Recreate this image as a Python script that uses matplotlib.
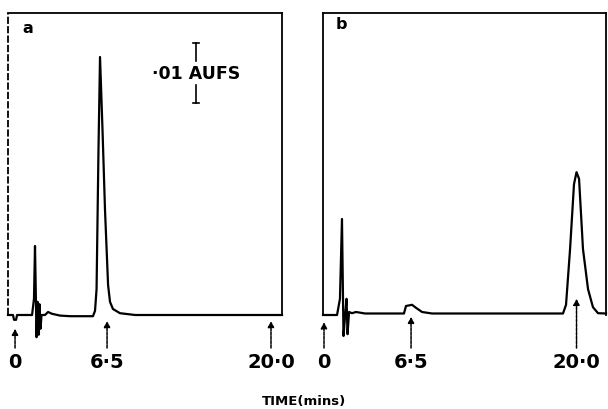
import matplotlib
matplotlib.use("Agg")
import matplotlib.pyplot as plt

# chromatogram a: time (min) and detector signal (mAU above baseline)
a_time = [-0.55, -0.16, -0.08, 0.08, 0.16, 1.33, 1.48, 1.56, 1.68, 1.76, 1.84, 1.91,
          1.99, 2.07, 2.34, 2.58, 2.89, 3.52, 4.30, 6.09, 6.25, 6.37, 6.52, 6.64,
          6.84, 7.03, 7.27, 7.42, 7.65, 8.20, 9.38, 20.86]
a_signal = [0, 0, -0.8, -0.8, 0, 0, 2.7, 11.5, -3.7, 2.2, -3.3, 1.8,
            -2.3, 0, 0, 0.5, 0.2, -0.1, -0.2, -0.2, 0.7, 4.3, 27.5, 43.0,
            30.5, 17.5, 5.0, 2.2, 1.0, 0.3, 0, 0]

# chromatogram b
b_time = [-0.08, 1.03, 1.26, 1.42, 1.54, 1.66, 1.78, 1.86, 1.98, 2.21, 2.53, 3.24,
          6.32, 6.48, 6.96, 7.27, 7.75, 8.54, 18.89, 19.13, 19.45, 19.76, 19.96,
          20.16, 20.47, 20.87, 21.26, 21.66, 22.29]
b_signal = [0, 0, 2.7, 16.0, -3.5, -0.3, 2.7, -3.2, 0.5, 0.3, 0.5, 0.25,
            0.25, 1.5, 1.7, 1.2, 0.5, 0.25, 0.25, 1.7, 11.0, 21.8, 23.8,
            22.7, 11.0, 4.3, 1.3, 0.3, 0.25]

tick_labels = ["0", "6·5", "20·0"]
a_marks = [0, 7.19, 20.0]
a_mark_tops = [-2.3, -1.0, -1.0]
b_marks = [0, 6.88, 19.96]
b_mark_tops = [-1.2, -0.3, 2.7]

scale_bar = 10.0   # mAU = .01 AUFS

bold = dict(fontweight="bold", family="DejaVu Sans")

fig = plt.figure(figsize=(6.08, 4.10), dpi=100)
ax_a = fig.add_axes([8 / 608, 1 - 356 / 410, 274 / 608, 342 / 410])
ax_b = fig.add_axes([323 / 608, 1 - 356 / 410, 283 / 608, 342 / 410])


def draw_panel(ax, t, s, xlim, marks, tops, letter, letter_pos, left_style):
    ax.set_xlim(xlim)
    ax.set_ylim(-6.667, 50.33)
    ax.axis("off")
    top = 50.33
    x0, x1 = xlim
    # open box: top + sides down to the baseline
    ax.plot([x0, x0], [0, top], color="black", lw=1.3, ls=left_style, clip_on=False)
    ax.plot([x0, x1], [top, top], color="black", lw=1.3, clip_on=False)
    ax.plot([x1, x1], [0, top], color="black", lw=1.3, clip_on=False)
    ax.plot(t, s, color="black", lw=1.6, solid_joinstyle="round", clip_on=False)
    for m, tp, lab in zip(marks, tops, tick_labels):
        ax.annotate("", xy=(m, tp), xytext=(m, -5.5),
                    arrowprops=dict(arrowstyle="-|>,head_length=0.35,head_width=0.18",
                                    lw=1.1, color="black", shrinkA=0, shrinkB=0,
                                    linestyle=(0, (2, 0.8))))
        ax.text(m, -7.83, lab, ha="center", va="center", fontsize=14,
                clip_on=False, **bold)
    ax.text(letter_pos[0], letter_pos[1], letter, ha="center", va="baseline",
            fontsize=11.5, **bold)


draw_panel(ax_a, a_time, a_signal, (-0.55, 20.86), a_marks, a_mark_tops,
           "a", (1.02, 47.2), (0, (4, 1.2)))
draw_panel(ax_b, b_time, b_signal, (-0.08, 22.29), b_marks, b_mark_tops,
           "b", (1.34, 47.8), "-")

# scale bar in panel a
bx, bc = 14.14, 40.3
ax_a.plot([bx, bx], [bc + scale_bar / 2, bc + 2.0], color="black", lw=1.2)
ax_a.plot([bx, bx], [bc - 2.0, bc - scale_bar / 2], color="black", lw=1.2)
for y in (bc + scale_bar / 2, bc - scale_bar / 2):
    ax_a.plot([bx - 0.25, bx + 0.25], [y, y], color="black", lw=1.2)
ax_a.text(bx, bc, "·01 AUFS", ha="center", va="center", fontsize=12.5, **bold)

fig.text(304 / 608, 1 - 402 / 410, "TIME(mins)", ha="center", va="center",
         fontsize=9.5, **bold)

fig.savefig("out.png", dpi=100)
